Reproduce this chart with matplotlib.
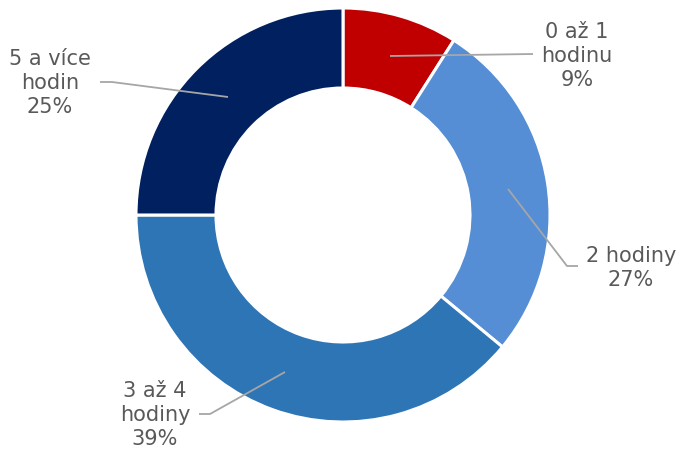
import matplotlib
matplotlib.use("Agg")
import matplotlib.pyplot as plt

categories = ["0 až 1\nhodinu", "2 hodiny", "3 až 4\nhodiny", "5 a více\nhodin"]
values = [9, 27, 39, 25]
colors = ["#C00000", "#558ED5", "#2E75B6", "#002060"]

W, H = 679, 450
cx, cy, R = 343, 215, 207

def p(px, py):
    return ((px - cx) / R, (cy - py) / R)

fig = plt.figure(figsize=(W / 100, H / 100), dpi=100)
ax = fig.add_axes([0, 0, 1, 1])

ax.pie(values, colors=colors, startangle=90, counterclock=False, radius=1,
       wedgeprops=dict(width=1 - 127 / 207, edgecolor="white", linewidth=2.2))

ax.set_xlim(-cx / R, (W - cx) / R)
ax.set_ylim(-(H - cy) / R, cy / R)
ax.set_aspect("equal")
ax.axis("off")

total = sum(values)
labels = [f"{c}\n{round(v / total * 100)}%" for c, v in zip(categories, values)]

# label text centers (pixels) and leader line paths (pixels)
text_pos = [(577, 56), (631, 268), (155, 415), (50, 83)]
lines = [
    [(390, 56), (533, 54)],
    [(508, 189), (567, 266), (578, 266)],
    [(285, 372), (210, 414), (199, 414)],
    [(228, 97), (112, 82), (100, 82)],
]

for lab, tp, ln in zip(labels, text_pos, lines):
    xs, ys = zip(*[p(*q) for q in ln])
    ax.plot(xs, ys, color="#A6A6A6", lw=1.3, solid_capstyle="butt", zorder=5)
    tx, ty = p(*tp)
    ax.text(tx, ty, lab, ha="center", va="center", fontsize=15,
            color="#595959", linespacing=1.25, family="DejaVu Sans")

fig.savefig("out.png", dpi=100)
